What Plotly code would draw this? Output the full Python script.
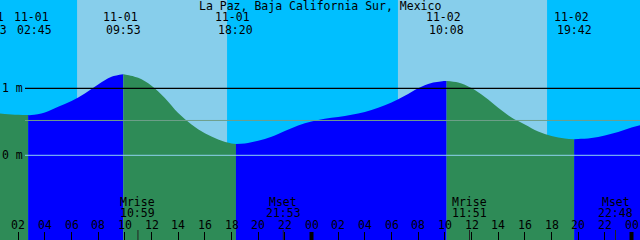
import plotly.graph_objects as go
import pandas as pd

# ---------------- data ----------------
title = "La Paz, Baja California Sur, Mexico"

hourly_times = pd.date_range("2024-11-01 00:00", "2024-11-03 01:00", freq="1h")
hourly_heights = [
    0.637, 0.618, 0.604, 0.601, 0.640, 0.724, 0.810, 0.922, 1.057, 1.172,
    1.207, 1.157, 1.039, 0.855, 0.631, 0.460, 0.328, 0.236, 0.176, 0.176,
    0.216, 0.276, 0.363, 0.445, 0.504, 0.545, 0.572, 0.604, 0.646, 0.709,
    0.788, 0.888, 1.001, 1.079, 1.109, 1.087, 1.004, 0.870, 0.709, 0.564,
    0.460, 0.355, 0.288, 0.251, 0.243, 0.258, 0.296, 0.348, 0.415, 0.467,
]

tide_times = ["2024-10-31 23:53", "2024-11-01 02:45", "2024-11-01 09:53",
              "2024-11-01 18:20", "2024-11-02 10:08", "2024-11-02 19:42"]
tide_heights = [0.64, 0.60, 1.21, 0.17, 1.11, 0.24]
tide_kind = ["H", "L", "H", "L", "H", "L"]
tide_date_labels = ["10-31", "11-01", "11-01", "11-01", "11-02", "11-02"]
tide_time_labels = ["23:53", "02:45", "09:53", "18:20", "10:08", "19:42"]

sunrise_times = ["2024-11-01 06:25", "2024-11-02 06:29"]
sunset_times = ["2024-11-01 17:40", "2024-11-02 17:40"]

moon_events = ["Mrise", "Mset", "Mrise", "Mset"]
moon_times = ["2024-11-01 10:59", "2024-11-01 21:53", "2024-11-02 11:51", "2024-11-02 22:48"]
moon_time_labels = ["10:59", "21:53", "11:51", "22:48"]

ref_levels = [1.0, 0.0]
ref_labels = ["1 m", "0 m"]
mean_level = 0.52

x_start = "2024-11-01 00:38:15"
x_end = "2024-11-03 00:38:15"
y_range = [-1.264, 2.318]

# ---------------- styles ----------------
NIGHT = "#00BFFF"
DAY = "#87CEEB"
FALLING = "#2E8B57"
RISING = "#0000FF"
FONT = dict(family="DejaVu Sans Mono", size=11.5, color="black")
H = 240.0

fig = go.Figure()

# tide fill segments
ht = pd.to_datetime(hourly_times)
tt = pd.to_datetime(tide_times)
base = y_range[0] - 1
for i in range(len(tt)):
    t0 = tt[i]
    t1 = tt[i + 1] if i + 1 < len(tt) else None
    xs = [t0]
    ys = [tide_heights[i]]
    for t, h in zip(ht, hourly_heights):
        if t > t0 and (t1 is None or t < t1):
            xs.append(t)
            ys.append(h)
    if t1 is not None:
        xs.append(t1)
        ys.append(tide_heights[i + 1])
    color = RISING if tide_kind[i] == "L" else FALLING
    fig.add_trace(go.Scatter(x=xs, y=[base] * len(xs), mode="lines",
                             line=dict(width=0, color=color), hoverinfo="skip"))
    fig.add_trace(go.Scatter(x=xs, y=ys, mode="lines", fill="tonexty",
                             fillcolor=color, line=dict(width=0, color=color, shape="spline"),
                             hoverinfo="skip"))

shapes = []
# daylight bands
for sr, ss in zip(sunrise_times, sunset_times):
    shapes.append(dict(type="rect", xref="x", yref="paper", x0=sr, x1=ss, y0=0, y1=1,
                       fillcolor=DAY, line=dict(width=0), layer="below"))
# reference lines
shapes.append(dict(type="line", xref="paper", yref="y", x0=25 / 640, x1=1,
                   y0=ref_levels[0], y1=ref_levels[0], line=dict(color="black", width=1.2)))
shapes.append(dict(type="line", xref="paper", yref="y", x0=25 / 640, x1=1,
                   y0=mean_level, y1=mean_level, line=dict(color="#6F9F8A", width=1)))
shapes.append(dict(type="line", xref="paper", yref="y", x0=25 / 640, x1=1,
                   y0=ref_levels[1], y1=ref_levels[1], line=dict(color="#8FD3F0", width=1)))
# midnight ticks (thick)
for d in pd.date_range("2024-11-02", "2024-11-03", freq="1D"):
    shapes.append(dict(type="line", xref="x", yref="paper", x0=d, x1=d, y0=0, y1=8 / H,
                       line=dict(color="black", width=4)))
# moon markers
for mt in moon_times:
    shapes.append(dict(type="line", xref="x", yref="paper", x0=mt, x1=mt, y0=0, y1=10 / H,
                       line=dict(color="#222222", width=1)))

ann = []
ann.append(dict(text=title, xref="paper", yref="paper", x=0.5, y=1 - 6 / H,
                xanchor="center", yanchor="middle", showarrow=False, font=FONT))
xs0 = pd.Timestamp(x_start)
xs1 = pd.Timestamp(x_end)
tide_xshift = [0, 6, 0, 0, 0, 0]
for i in range(len(tide_times)):
    # position as fraction of the time axis so labels partly outside stay visible
    frac = (pd.Timestamp(tide_times[i]) - xs0) / (xs1 - xs0)
    ann.append(dict(text=tide_date_labels[i], xref="paper", yref="paper", x=frac,
                    y=1 - 17 / H, xanchor="center", yanchor="middle", showarrow=False,
                    font=FONT, xshift=tide_xshift[i] - 3))
    ann.append(dict(text=tide_time_labels[i], xref="paper", yref="paper", x=frac,
                    y=1 - 30 / H, xanchor="center", yanchor="middle", showarrow=False,
                    font=FONT, xshift=tide_xshift[i]))
for ev, mt, ml in zip(moon_events, moon_times, moon_time_labels):
    ann.append(dict(text=ev, xref="x", yref="paper", x=mt, y=1 - 202 / H,
                    xanchor="center", yanchor="middle", showarrow=False, font=FONT))
    ann.append(dict(text=ml, xref="x", yref="paper", x=mt, y=1 - 213 / H,
                    xanchor="center", yanchor="middle", showarrow=False, font=FONT))
for lv, lb in zip(ref_levels, ref_labels):
    ann.append(dict(text=lb, xref="paper", yref="y", x=0, y=lv, xanchor="left",
                    yanchor="middle", showarrow=False, font=FONT, xshift=0))
# hour tick labels
for t in pd.date_range("2024-11-01 02:00", "2024-11-03 00:00", freq="2h"):
    ann.append(dict(text=t.strftime("%H"), xref="x", yref="paper", x=t, y=1 - 225 / H,
                    xanchor="center", yanchor="middle", showarrow=False, font=FONT))

fig.update_layout(
    width=640, height=240, margin=dict(l=0, r=0, t=0, b=0),
    showlegend=False, plot_bgcolor=NIGHT, paper_bgcolor=NIGHT,
    shapes=shapes, annotations=ann,
    xaxis=dict(type="date", range=[x_start, x_end], showgrid=False, zeroline=False,
               showline=False, ticks="inside", ticklen=8, tickcolor="black", tickwidth=1,
               tick0="2024-11-01 00:00", dtick=2 * 3600 * 1000, showticklabels=False,
               fixedrange=True),
    yaxis=dict(range=y_range, visible=False, fixedrange=True),
)

fig.write_html("out.html", config={"displayModeBar": False})
